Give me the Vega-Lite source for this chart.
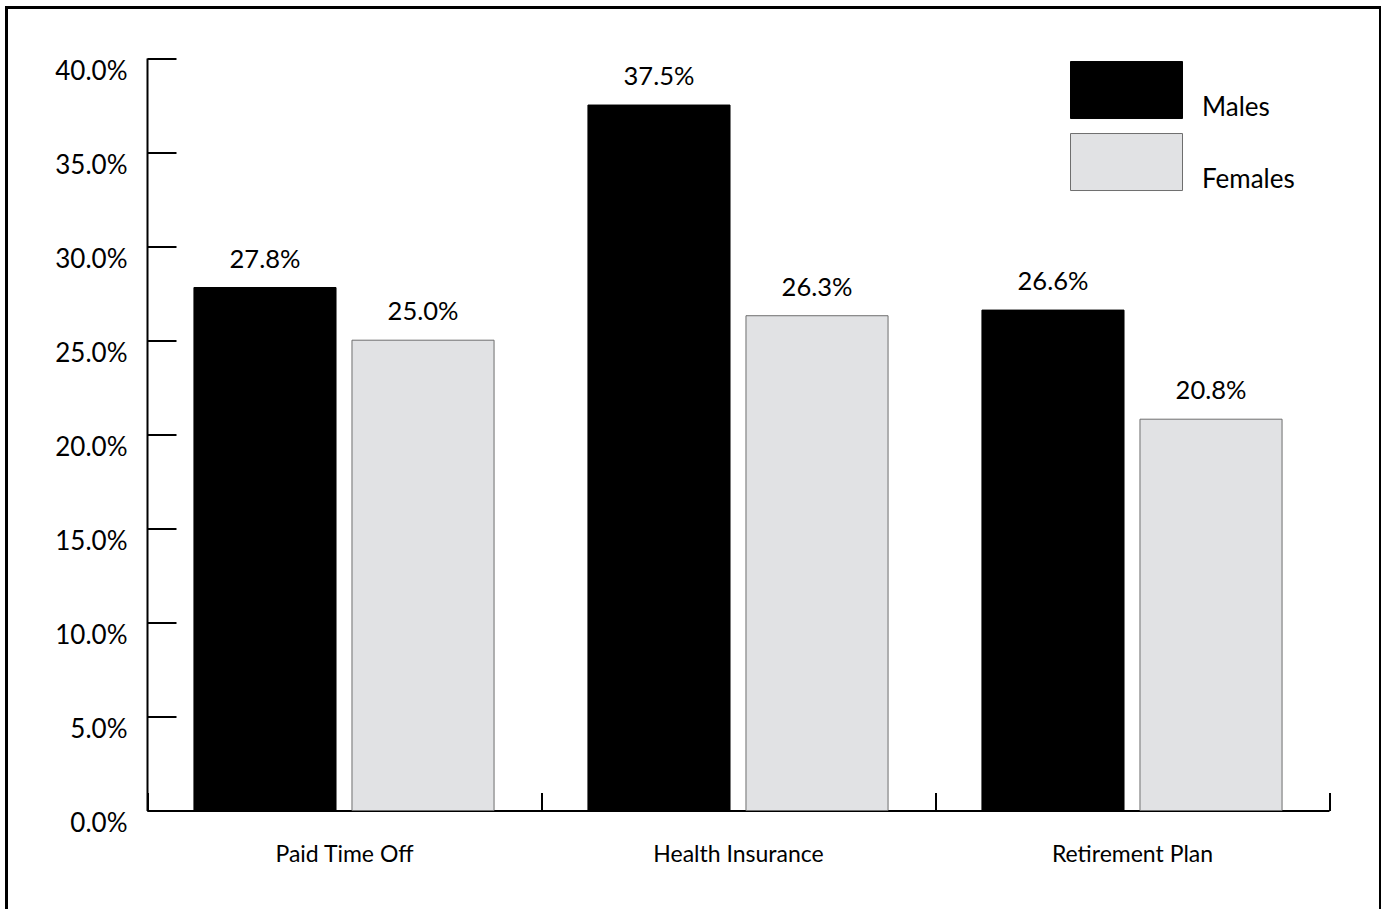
{
  "$schema": "https://vega.github.io/schema/vega-lite/v6.json",
  "width": 1374,
  "height": 910,
  "autosize": "none",
  "padding": {"left": 6.5, "top": 7.5, "right": 0, "bottom": 0},
  "background": "white",
  "config": {
    "view": {"stroke": "black", "strokeWidth": 3, "fill": "white"},
    "font": "Lato",
    "text": {"font": "Lato"}
  },
  "data": {
    "values": [
      {"benefit": "Paid Time Off", "sex": "Males", "share": 0.278},
      {"benefit": "Paid Time Off", "sex": "Females", "share": 0.25},
      {"benefit": "Health Insurance", "sex": "Males", "share": 0.375},
      {"benefit": "Health Insurance", "sex": "Females", "share": 0.263},
      {"benefit": "Retirement Plan", "sex": "Males", "share": 0.266},
      {"benefit": "Retirement Plan", "sex": "Females", "share": 0.208}
    ]
  },
  "encoding": {
    "x": {
      "field": "benefit",
      "type": "nominal",
      "sort": ["Paid Time Off", "Health Insurance", "Retirement Plan"],
      "scale": {"range": [140.5, 1322.5], "paddingInner": 0, "paddingOuter": 0},
      "axis": {
        "title": null,
        "orient": "bottom",
        "offset": -107,
        "tickBand": "extent",
        "tickSize": -18,
        "tickWidth": 2,
        "tickColor": "black",
        "domainWidth": 2,
        "domainColor": "black",
        "labelFontSize": 23,
        "labelColor": "black",
        "labelPadding": 50.5,
        "labelAngle": 0
      }
    },
    "xOffset": {
      "field": "sex",
      "sort": ["Males", "Females"],
      "scale": {"paddingInner": 0.101, "paddingOuter": 0.297}
    },
    "y": {
      "field": "share",
      "type": "quantitative",
      "scale": {"domain": [0, 0.4], "range": [803, 50.5], "nice": false},
      "axis": {
        "title": null,
        "orient": "left",
        "offset": -140.5,
        "values": [0, 0.05, 0.1, 0.15, 0.2, 0.25, 0.3, 0.35, 0.4],
        "format": ".1%",
        "grid": false,
        "tickSize": -29,
        "tickWidth": 2,
        "tickColor": "black",
        "domainWidth": 2,
        "domainColor": "black",
        "labelFontSize": 26,
        "labelColor": "black",
        "labelPadding": 49,
        "labelBaseline": "top",
        "labelOffset": 0,
        "labelFlush": false
      }
    }
  },
  "layer": [
    {
      "mark": {"type": "bar", "strokeWidth": 1},
      "encoding": {
        "color": {
          "field": "sex",
          "type": "nominal",
          "sort": ["Males", "Females"],
          "scale": {"domain": ["Males", "Females"], "range": ["#000000", "#e1e2e4"]},
          "legend": {
            "title": null,
            "orient": "none",
            "legendX": 1063.5,
            "legendY": 51.5,
            "padding": 0,
            "symbolType": "M-1,-0.964H1V0.054H-1Z",
            "symbolSize": 12544,
            "symbolStrokeColor": "#555555",
            "symbolStrokeWidth": 1,
            "symbolOpacity": 1,
            "labelFontSize": 26,
            "labelColor": "black",
            "labelOffset": 19,
            "labelBaseline": "alphabetic",
            "rowPadding": 10
          }
        },
        "stroke": {
          "field": "sex",
          "type": "nominal",
          "scale": {"domain": ["Males", "Females"], "range": ["#000000", "#6e6e6e"]},
          "legend": null
        }
      }
    },
    {
      "mark": {"type": "text", "dy": -20, "fontSize": 25.5, "baseline": "alphabetic", "color": "black"},
      "encoding": {
        "text": {"field": "share", "type": "quantitative", "format": ".1%"}
      }
    }
  ]
}
